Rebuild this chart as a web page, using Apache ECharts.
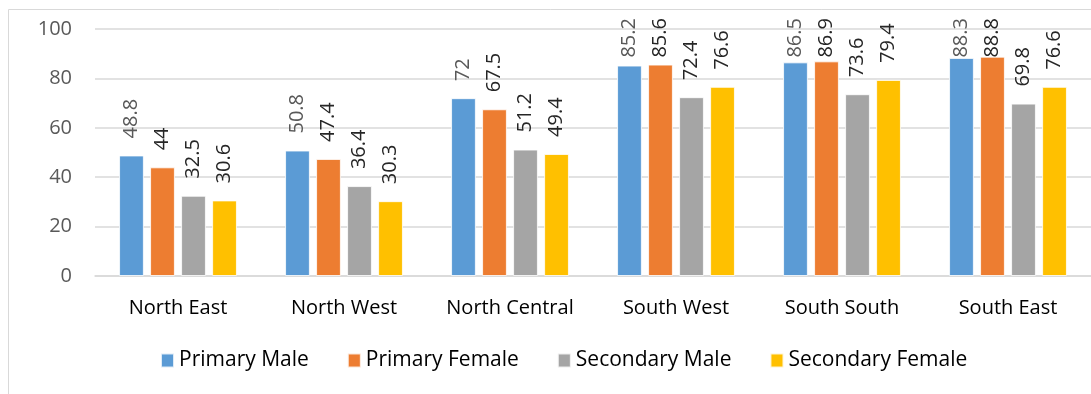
<!DOCTYPE html>
<html>
<head>
<meta charset="utf-8">
<script src="https://cdn.jsdelivr.net/npm/echarts@6/dist/echarts.min.js"></script>
<style>
  html, body { margin: 0; padding: 0; background: #fff; }
  #root { width: 1091px; height: 394px; }
</style>
</head>
<body>
<div id="root"></div>
<script>
const regions = ['North East', 'North West', 'North Central', 'South West', 'South South', 'South East']
const primaryMale = [48.8, 50.8, 72, 85.2, 86.5, 88.3]
const primaryFemale = [44, 47.4, 67.5, 85.6, 86.9, 88.8]
const secondaryMale = [32.5, 36.4, 51.2, 72.4, 73.6, 69.8]
const secondaryFemale = [30.6, 30.3, 49.4, 76.6, 79.4, 76.6]

const font = 'Open Sans, sans-serif'
const labelSize = 20
const gridTop = 29
const plotHeight = 247

// measure label text so labels near the top get pulled down like Excel does
const ctx = document.createElement('canvas').getContext('2d')
ctx.font = labelSize + 'px ' + font

const withLabelDistance = values => values.map(v => {
  const barTop = gridTop + (100 - v) / 100 * plotHeight
  const w = ctx.measureText(String(v)).width
  const d = Math.min(17, barTop - 18 - w)
  return { value: v, label: { distance: d } }
})

const makeSeries = (name, values, color, labelColor) => ({
  name,
  type: 'bar',
  data: withLabelDistance(values),
  barGap: '25%',
  barCategoryGap: '29%',
  itemStyle: { color, borderColor: 'rgba(255,255,255,0.8)', borderWidth: 1 },
  label: {
    show: true,
    position: 'top',
    rotate: 90,
    align: 'left',
    verticalAlign: 'middle',
    fontFamily: font,
    fontSize: labelSize,
    color: labelColor
  }
})

const myChart = echarts.init(document.getElementById('root'))
const option = {
  animation: false,
  graphic: [{
    type: 'rect',
    shape: { x: 8.5, y: 9.5, width: 1100, height: 400 },
    style: { fill: 'none', stroke: '#d9d9d9', lineWidth: 1 },
    silent: true
  }],
  grid: { left: 95, right: 0, top: gridTop, bottom: 394 - gridTop - plotHeight },
  legend: {
    top: 345,
    left: 155,
    itemWidth: 13,
    itemHeight: 14,
    itemGap: 38,
    icon: 'rect',
    textStyle: { fontFamily: font, fontSize: 21, color: '#000' },
    data: ['Primary Male', 'Primary Female', 'Secondary Male', 'Secondary Female']
  },
  xAxis: {
    type: 'category',
    data: regions,
    axisLine: { lineStyle: { color: '#d9d9d9', width: 1.5 } },
    axisTick: { show: false },
    axisLabel: { interval: 0, fontFamily: font, fontSize: 20, color: '#000', margin: 22 }
  },
  yAxis: {
    type: 'value',
    min: 0,
    max: 100,
    interval: 20,
    axisLine: { show: false },
    axisTick: { show: false },
    splitLine: { lineStyle: { color: '#d9d9d9', width: 1.5 } },
    axisLabel: { fontFamily: font, fontSize: 20, color: '#595959', margin: 23 }
  },
  series: [
    makeSeries('Primary Male', primaryMale, '#5b9bd5', '#595959'),
    makeSeries('Primary Female', primaryFemale, '#ed7d31', '#262626'),
    makeSeries('Secondary Male', secondaryMale, '#a5a5a5', '#262626'),
    makeSeries('Secondary Female', secondaryFemale, '#ffc000', '#262626')
  ]
}
myChart.setOption(option)
</script>
</body>
</html>
